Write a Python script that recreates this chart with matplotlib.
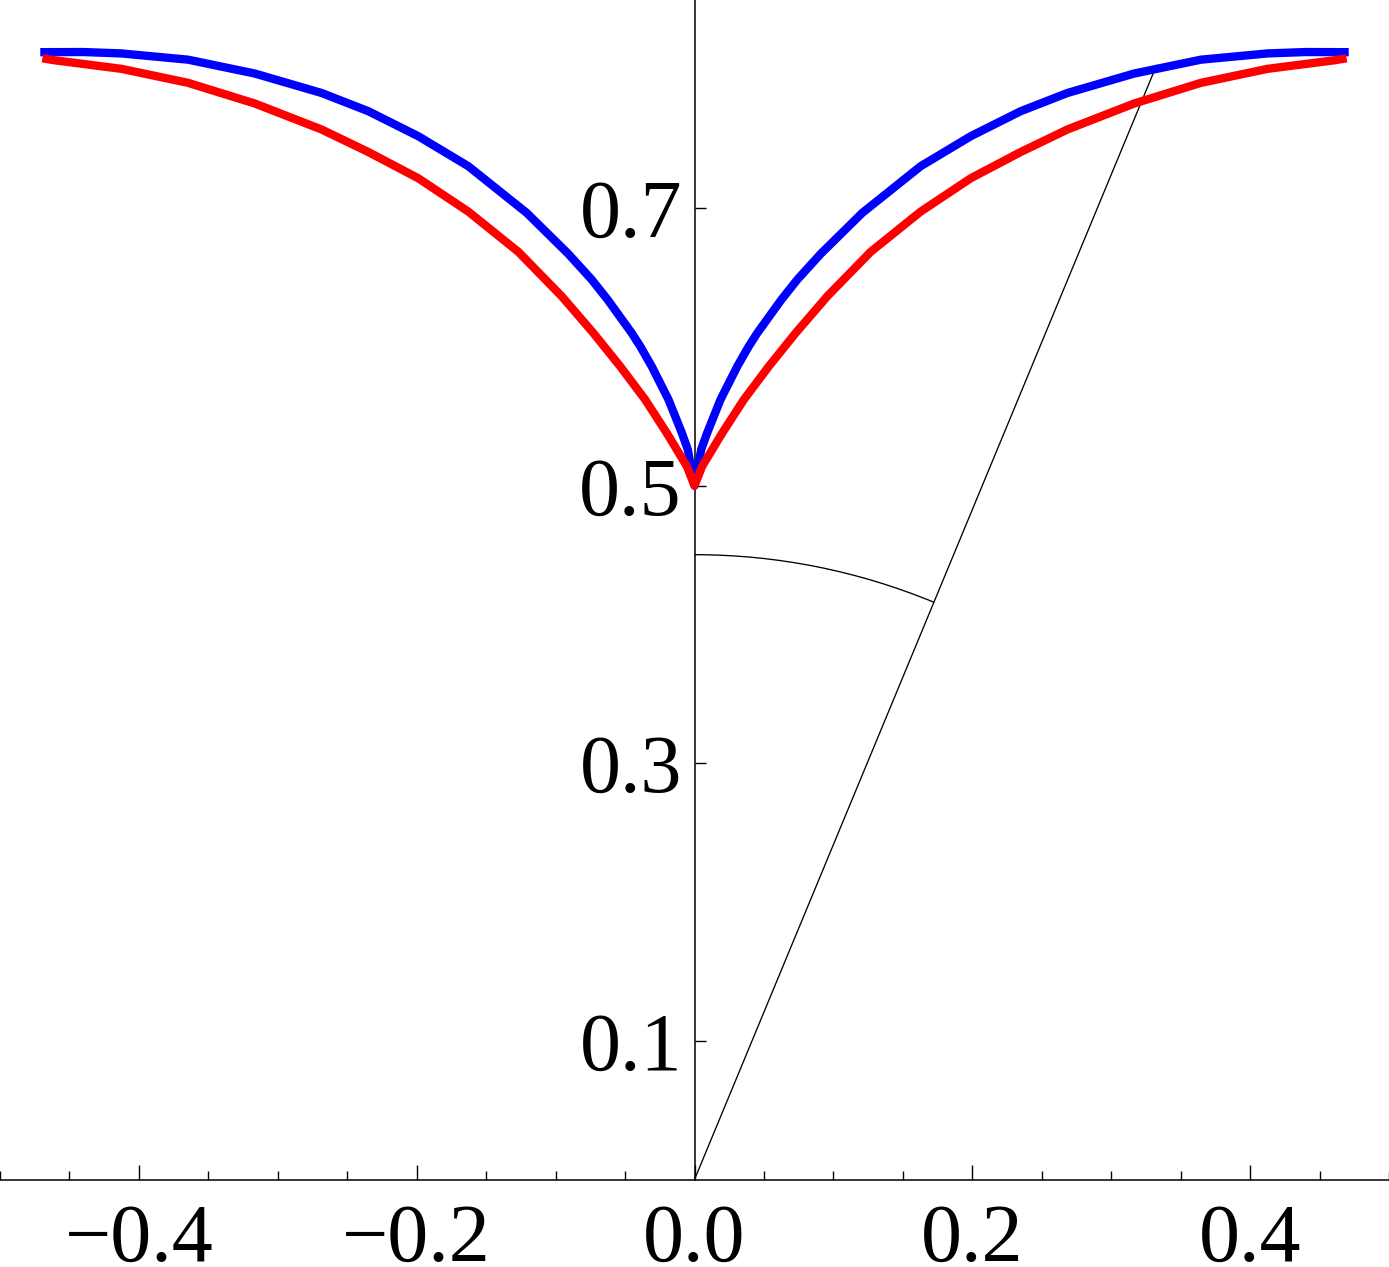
import matplotlib
matplotlib.use("Agg")
import matplotlib.pyplot as plt
import numpy as np
from matplotlib.patches import Arc

plt.rcParams['font.family'] = ['Liberation Serif', 'DejaVu Serif']

# Right half of each curve; left half is the mirror image.
blue_x = [0.0, 0.0048, 0.0091, 0.0187, 0.0308, 0.0391, 0.0452, 0.0625, 0.0740,
          0.0908, 0.1208, 0.1628, 0.1988, 0.2349, 0.2685, 0.3165, 0.3646,
          0.4126, 0.44, 0.471]
blue_y = [0.500, 0.526, 0.538, 0.562, 0.586, 0.6005, 0.610, 0.634, 0.6485,
          0.667, 0.6966, 0.7302, 0.7518, 0.7699, 0.783, 0.797, 0.807,
          0.8115, 0.8125, 0.8124]

red_x = [0.0, 0.0055, 0.0200, 0.0355, 0.0535, 0.0728, 0.0956, 0.1268, 0.1628,
         0.1988, 0.2349, 0.2685, 0.3165, 0.3646, 0.4126, 0.461, 0.4695]
red_y = [0.500, 0.514, 0.538, 0.562, 0.586, 0.610, 0.6365, 0.6685, 0.6975,
         0.7215, 0.7405, 0.7567, 0.7754, 0.7903, 0.8004, 0.8066, 0.808]

# ray from the origin and the angle arc
ray_x = [0.0, 0.3326]
ray_y = [0.0, 0.8028]
arc_radius = 0.4503
arc_theta = (67.5, 90.0)

xticks = [-0.4, -0.2, 0.0, 0.2, 0.4]
xticklabels = ["\u22120.4", "\u22120.2", "0.0", "0.2", "0.4"]
xminor = [-0.5, -0.45, -0.35, -0.3, -0.25, -0.15, -0.1, -0.05,
          0.05, 0.1, 0.15, 0.25, 0.3, 0.35, 0.45, 0.5]
yticks = [0.1, 0.3, 0.5, 0.7]
yticklabels = ["0.1", "0.3", "0.5", "0.7"]


def mirror(x, y):
    x = np.asarray(x)
    y = np.asarray(y)
    return np.concatenate([-x[::-1], x[1:]]), np.concatenate([y[::-1], y[1:]])


fig = plt.figure(figsize=(13.89, 12.67), dpi=100)
ax = fig.add_axes([0, 0, 1, 1])

ax.plot(ray_x, ray_y, color='black', lw=0.95, zorder=2)
ax.add_patch(Arc((0, 0), 2 * arc_radius, 2 * arc_radius, theta1=arc_theta[0],
                 theta2=arc_theta[1], color='black', lw=0.95, zorder=2))

bx, by = mirror(blue_x, blue_y)
rx, ry = mirror(red_x, red_y)
ax.plot(bx, by, color='#0000ff', lw=6.0, solid_capstyle='butt',
        solid_joinstyle='round', zorder=3)
ax.plot(rx, ry, color='#ff0000', lw=6.0, solid_capstyle='butt',
        solid_joinstyle='round', zorder=4)

ax.set_xlim(-0.5, 0.5)
ax.set_ylim(-0.063, 0.850)

# axes through the origin, Mathematica style
for side in ['top', 'right']:
    ax.spines[side].set_visible(False)
ax.spines['left'].set_position(('data', 0))
ax.spines['bottom'].set_position(('data', 0))
ax.spines['left'].set_bounds(0, 0.85)
ax.spines['left'].set_linewidth(1.1)
ax.spines['bottom'].set_linewidth(1.1)

ax.set_xticks(xticks)
ax.set_xticklabels(xticklabels)
ax.set_xticks(xminor, minor=True)
ax.set_yticks(yticks)
ax.set_yticklabels(yticklabels)

ax.tick_params(axis='x', which='major', direction='in', length=10.5, width=1.0,
               pad=17, labelsize=59)
ax.tick_params(axis='x', which='minor', direction='in', length=6.4, width=1.0)
ax.tick_params(axis='y', which='major', direction='in', length=7.7, width=1.0,
               pad=9, labelsize=59)

fig.savefig("out.png", dpi=100)
